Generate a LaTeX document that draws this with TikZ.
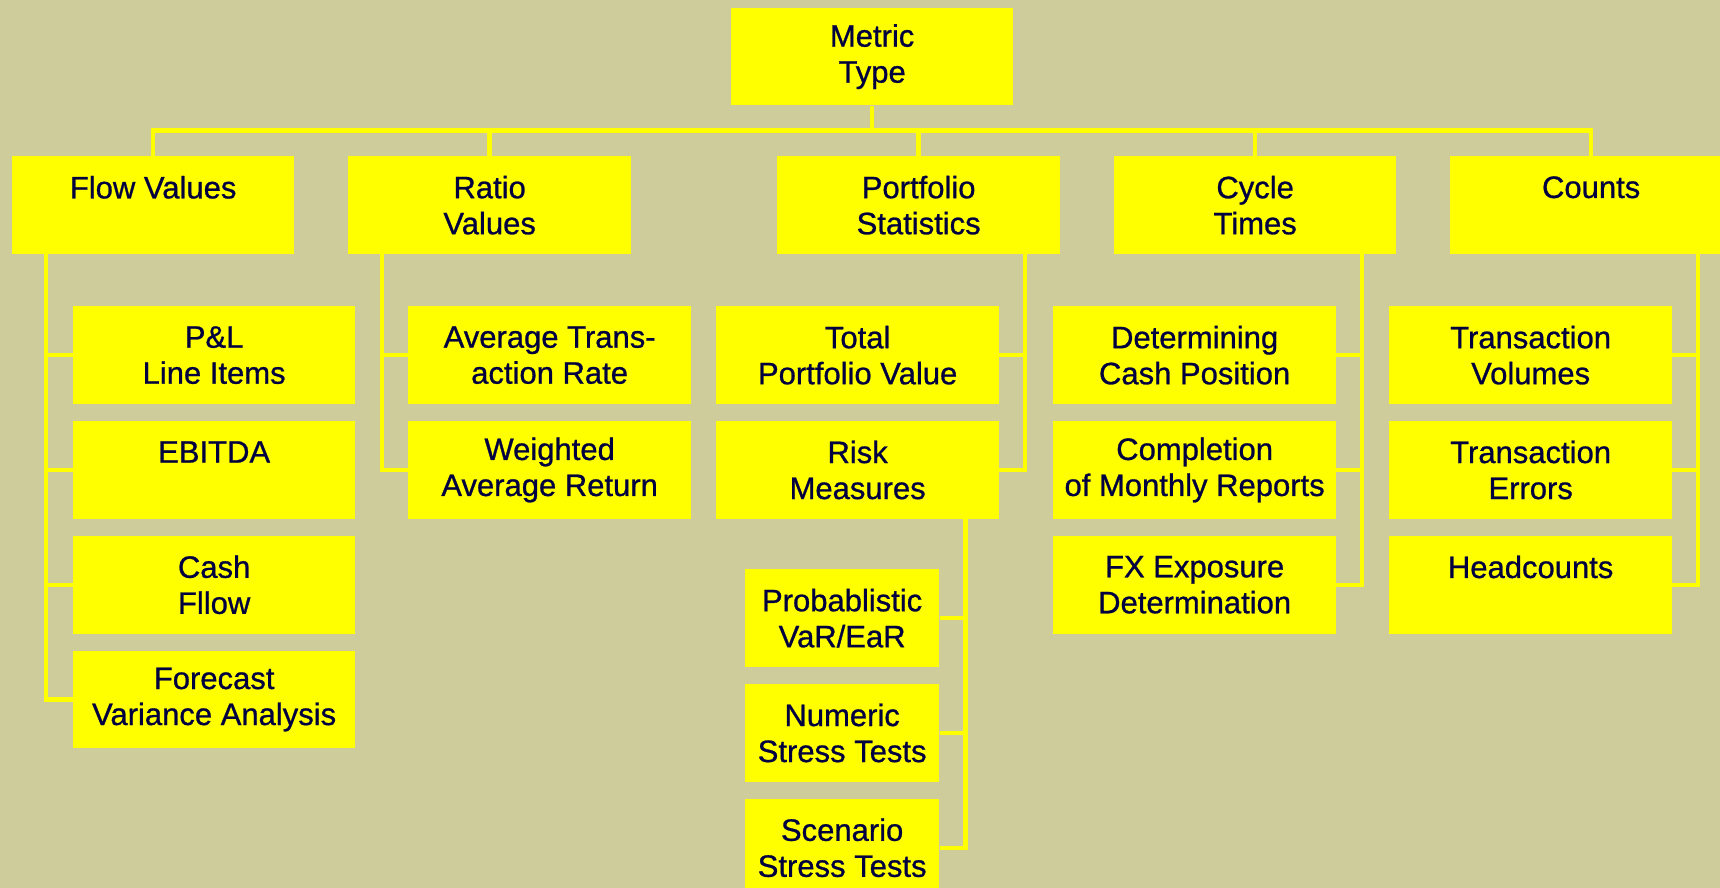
\documentclass[tikz,border=0pt]{standalone}
\usepackage{fontspec}
\setmainfont[FakeBold=0.8]{Liberation Sans}
\usetikzlibrary{positioning}
\definecolor{bgolive}{RGB}{206,204,155}
\definecolor{boxyellow}{RGB}{255,255,0}
\definecolor{textnavy}{RGB}{0,0,64}

\begin{document}
\begin{tikzpicture}[
    x=0.5pt, y=-0.5pt,
    node distance=8.25pt,
    box/.style={rectangle, fill=boxyellow, text=textnavy, align=center, inner sep=0pt, minimum width=141.25pt, minimum height=48.75pt, font=\fontsize{15.5}{18}\selectfont},
    subbox/.style={box, minimum width=97.25pt},
    conn/.style={draw=boxyellow, line width=2.25pt}
]
\path[use as bounding box, fill=bgolive] (0,0) rectangle (1720,888);
\clip (0,0) rectangle (1720,888);

\node[box, anchor=north west] (mt) at (730.5,7.5) {Metric\\Type};

\node[box, anchor=north west] (flow) at (11.5,156) {Flow Values\\\mbox{}};
\node[box, anchor=north west] (ratio) at (348,156) {Ratio\\Values};
\node[box, anchor=north west] (port) at (777,156) {Portfolio\\Statistics};
\node[box, anchor=north west] (cycle) at (1113.5,156) {Cycle\\Times};
\node[box, anchor=north west] (counts) at (1449.5,156) {Counts\\\mbox{}};

\node[box, anchor=north west] (pl) at (72.5,306) {P\&L\\Line Items};
\node[box, below=of pl] (ebitda) {EBITDA\\\mbox{}};
\node[box, below=of ebitda] (cashflow) {Cash\\Fllow};
\node[box, below=of cashflow] (forecast) {Forecast\\Variance Analysis};

\node[box, anchor=north west] (avgrate) at (408,306) {Average Trans-\\action Rate};
\node[box, below=of avgrate] (wavg) {Weighted\\Average Return};

\node[box, anchor=north west] (tpv) at (716,306) {Total\\Portfolio Value};
\node[box, below=of tpv] (risk) {Risk\\Measures};

\node[subbox, anchor=north west] (var) at (744.5,569) {Probablistic\\VaR/EaR};
\node[subbox, below=of var] (numeric) {Numeric\\Stress Tests};
\node[subbox, below=of numeric] (scenario) {Scenario\\Stress Tests};

\node[box, anchor=north west] (detcash) at (1053,306) {Determining\\Cash Position};
\node[box, below=of detcash] (monthly) {Completion\\of Monthly Reports};
\node[box, below=of monthly] (fxexp) {FX Exposure\\Determination};

\node[box, anchor=north west] (txvol) at (1389,306) {Transaction\\Volumes};
\node[box, below=of txvol] (txerr) {Transaction\\Errors};
\node[box, below=of txerr] (heads) {Headcounts\\\mbox{}};

\coordinate (bus) at (0,130.5);
\draw[conn] (mt.south) -- (mt.south |- bus);
\draw[conn] (flow.north) |- (bus -| counts.north) -- (counts.north);
\foreach \n in {ratio,port,cycle}
    \draw[conn] (\n.north) -- (\n.north |- bus);

\coordinate (flowtr) at ([xshift=17.25pt]flow.south west);
\coordinate (ratiotr) at ([xshift=17pt]ratio.south west);
\coordinate (porttr) at ([xshift=-17.75pt]port.south east);
\coordinate (risktr) at ([xshift=-17pt]risk.south east);
\coordinate (cycletr) at ([xshift=-17.5pt]cycle.south east);
\coordinate (countstr) at ([xshift=-17.5pt]counts.south east);

\foreach \c in {pl,ebitda,cashflow,forecast}
    \draw[conn] (flowtr) |- (\c.west);
\foreach \c in {avgrate,wavg}
    \draw[conn] (ratiotr) |- (\c.west);
\foreach \c in {tpv,risk}
    \draw[conn] (porttr) |- (\c.east);
\foreach \c in {var,numeric,scenario}
    \draw[conn] (risktr) |- (\c.east);
\foreach \c in {detcash,monthly,fxexp}
    \draw[conn] (cycletr) |- (\c.east);
\foreach \c in {txvol,txerr,heads}
    \draw[conn] (countstr) |- (\c.east);
\end{tikzpicture}
\end{document}
